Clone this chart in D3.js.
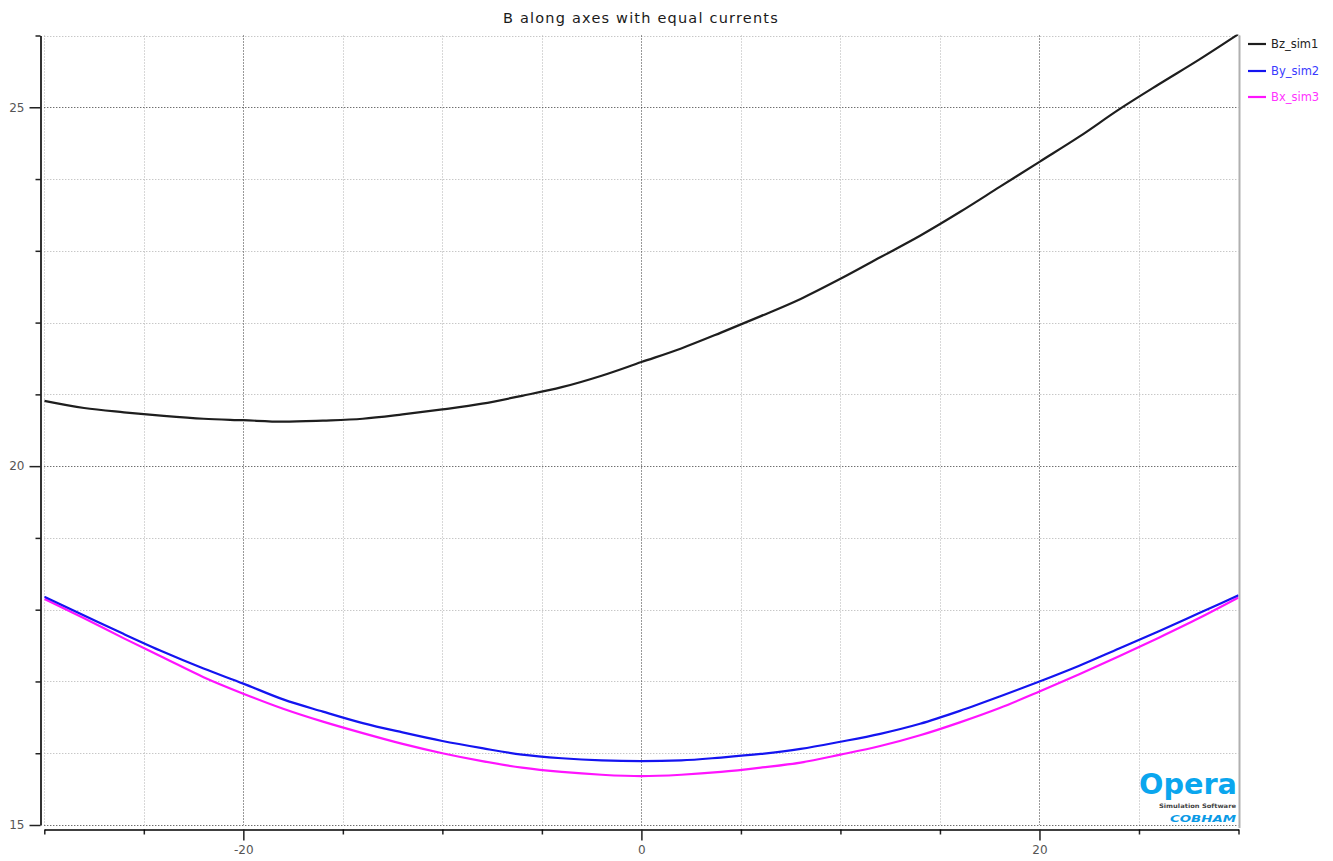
<!DOCTYPE html>
<html>
<head>
<meta charset="utf-8">
<script src="https://cdn.jsdelivr.net/npm/d3@7"></script>
<style>
  body { margin: 0; background: #fff; }
  svg { display: block; font-family: "DejaVu Sans", Verdana, sans-serif; }
</style>
</head>
<body>
<svg id="chart" width="1333" height="861"></svg>
<script>
// Sample positions along the axis
const positions = [-30, -28, -26, -24, -22, -20, -18, -16, -14, -12, -10, -8, -6, -4, -2, 0,
                   2, 4, 6, 8, 10, 12, 14, 16, 18, 20, 22, 24, 26, 28, 30];

// Field magnitude for each simulation
const bzSim1 = [20.91, 20.81, 20.75, 20.70, 20.66, 20.64, 20.62, 20.635, 20.66, 20.72, 20.79,
                20.87, 20.98, 21.10, 21.26, 21.45, 21.64, 21.86, 22.09, 22.33, 22.61, 22.91,
                23.21, 23.54, 23.89, 24.24, 24.59, 24.97, 25.32, 25.66, 26.02];
const bySim2 = [18.18, 17.92, 17.66, 17.41, 17.18, 16.97, 16.75, 16.58, 16.42, 16.29, 16.17,
                16.07, 15.98, 15.93, 15.90, 15.89, 15.90, 15.94, 15.99, 16.06, 16.16, 16.27,
                16.41, 16.59, 16.79, 17.00, 17.22, 17.46, 17.70, 17.95, 18.20];
const bxSim3 = [18.15, 17.88, 17.60, 17.33, 17.06, 16.83, 16.62, 16.44, 16.28, 16.13, 16.00,
                15.89, 15.80, 15.74, 15.70, 15.68, 15.70, 15.74, 15.80, 15.87, 15.98, 16.10,
                16.25, 16.43, 16.63, 16.86, 17.10, 17.35, 17.61, 17.88, 18.17];

const seriesNames = ["Bz_sim1", "By_sim2", "Bx_sim3"];
const seriesColors = ["#1e1e1e", "#1414f0", "#ff14ff"];
const legendTextColors = ["#222222", "#3a3aff", "#ff33ff"];

// Axis ticks
const xMajorTicks = [-20, 0, 20];
const xMinorTicks = [-30, -25, -15, -10, -5, 5, 10, 15, 25, 30];
const yMajorTicks = [15, 20, 25];
const yMinorTicks = [16, 17, 18, 19, 21, 22, 23, 24, 26];

const titleText = "B along axes with equal currents";

const svg = d3.select("#chart");

const plot = { left: 44.3, right: 1238.5, top: 35.5, bottom: 825 };
const x = d3.scaleLinear().domain([-30, 30]).range([plot.left, plot.right]);
const y = d3.scaleLinear().domain([15, 26]).range([plot.bottom, plot.top]);
const plainNumber = d => String(d);

// Title
svg.append("text")
  .attr("x", 641).attr("y", 23)
  .attr("text-anchor", "middle")
  .attr("font-size", 14.5)
  .attr("letter-spacing", 1.2)
  .attr("fill", "#1a1a1a")
  .text(titleText);

// Grid lines
const grid = svg.append("g").attr("class", "grid");
function vGrid(ticks, color) {
  grid.selectAll(null).data(ticks).enter().append("line")
    .attr("x1", d => Math.round(x(d)) + 0.5).attr("x2", d => Math.round(x(d)) + 0.5)
    .attr("y1", plot.top).attr("y2", plot.bottom)
    .attr("stroke", color).attr("stroke-width", 1).attr("stroke-dasharray", "1,2");
}
function hGrid(ticks, color) {
  grid.selectAll(null).data(ticks).enter().append("line")
    .attr("x1", plot.left).attr("x2", plot.right)
    .attr("y1", d => Math.round(y(d)) + 0.5).attr("y2", d => Math.round(y(d)) + 0.5)
    .attr("stroke", color).attr("stroke-width", 1).attr("stroke-dasharray", "1,2");
}
vGrid(xMinorTicks, "#b0b0b0");
hGrid(yMinorTicks, "#b0b0b0");
vGrid(xMajorTicks, "#333");
hGrid(yMajorTicks, "#333");

// Right frame edge
svg.append("line")
  .attr("x1", 1239.5).attr("x2", 1239.5)
  .attr("y1", plot.top).attr("y2", 828)
  .attr("stroke", "#b0b0b0").attr("stroke-width", 2);

// Y axis
const yAxisG = svg.append("g").attr("transform", "translate(40.5,0)");
yAxisG.append("g")
  .call(d3.axisLeft(y).tickValues(yMinorTicks).tickSize(5).tickSizeOuter(0).tickFormat(""))
  .call(g => g.select(".domain").remove());
yAxisG.append("g")
  .call(d3.axisLeft(y).tickValues(yMajorTicks).tickSize(11).tickSizeOuter(0).tickPadding(5)
        .tickFormat(plainNumber))
  .call(g => g.select(".domain").attr("stroke-width", 1.6));
yAxisG.selectAll("line").attr("stroke", "#222").attr("stroke-width", 1.5);
yAxisG.selectAll("text").attr("fill", "#555").attr("font-size", 12)
  .attr("font-family", "DejaVu Sans, sans-serif");

// X axis
const xAxisG = svg.append("g").attr("transform", "translate(0,829.5)");
xAxisG.append("g")
  .call(d3.axisBottom(x).tickValues(xMinorTicks).tickSize(5).tickSizeOuter(0).tickFormat(""))
  .call(g => g.select(".domain").remove());
xAxisG.append("g")
  .call(d3.axisBottom(x).tickValues(xMajorTicks).tickSize(11).tickSizeOuter(0).tickPadding(5)
        .tickFormat(plainNumber))
  .call(g => g.select(".domain").attr("stroke-width", 1.6));
xAxisG.selectAll("line").attr("stroke", "#222").attr("stroke-width", 1.5);
xAxisG.selectAll("text").attr("fill", "#555").attr("font-size", 12)
  .attr("font-family", "DejaVu Sans, sans-serif");

// Clip for the curves
svg.append("defs").append("clipPath").attr("id", "plotClip")
  .append("rect")
  .attr("x", plot.left).attr("y", plot.top - 1)
  .attr("width", plot.right - plot.left).attr("height", plot.bottom - plot.top + 2);

const line = d3.line()
  .x(d => x(d[0]))
  .y(d => y(d[1]))
  .curve(d3.curveMonotoneX);

const seriesValues = [bzSim1, bySim2, bxSim3];
const curves = svg.append("g").attr("clip-path", "url(#plotClip)");
// drawn bottom-up so the black curve sits on top
[2, 1, 0].forEach(i => {
  const pts = positions.map((p, k) => [p, seriesValues[i][k]]);
  curves.append("path")
    .datum(pts)
    .attr("d", line)
    .attr("fill", "none")
    .attr("stroke", seriesColors[i])
    .attr("stroke-width", 2.2)
    .attr("stroke-linejoin", "round");
});

// Legend
const legend = svg.append("g");
const legendY = [44, 71, 97];
seriesNames.forEach((name, i) => {
  legend.append("line")
    .attr("x1", 1248).attr("x2", 1266)
    .attr("y1", legendY[i]).attr("y2", legendY[i])
    .attr("stroke", seriesColors[i]).attr("stroke-width", 2.2);
  legend.append("text")
    .attr("x", 1271).attr("y", legendY[i] + 4)
    .attr("font-size", 11.5)
    .attr("fill", legendTextColors[i])
    .text(name);
});

// Opera branding
const brand = svg.append("g");
brand.append("text")
  .attr("x", 1139).attr("y", 794)
  .attr("font-size", 29).attr("font-weight", "bold")
  .attr("font-family", "DejaVu Sans, sans-serif")
  .attr("textLength", 98).attr("lengthAdjust", "spacingAndGlyphs")
  .attr("fill", "#0aa6ee")
  .text("Opera");
brand.append("text")
  .attr("x", 1236).attr("y", 807.5)
  .attr("text-anchor", "end")
  .attr("font-size", 6).attr("font-weight", "bold")
  .attr("textLength", 77).attr("lengthAdjust", "spacingAndGlyphs")
  .attr("fill", "#444")
  .text("Simulation Software");
brand.append("text")
  .attr("x", 1236).attr("y", 822)
  .attr("text-anchor", "end")
  .attr("font-size", 9.5).attr("font-weight", "bold").attr("font-style", "italic")
  .attr("textLength", 66).attr("lengthAdjust", "spacingAndGlyphs")
  .attr("fill", "#0a9ae6")
  .text("COBHAM");
</script>
</body>
</html>
